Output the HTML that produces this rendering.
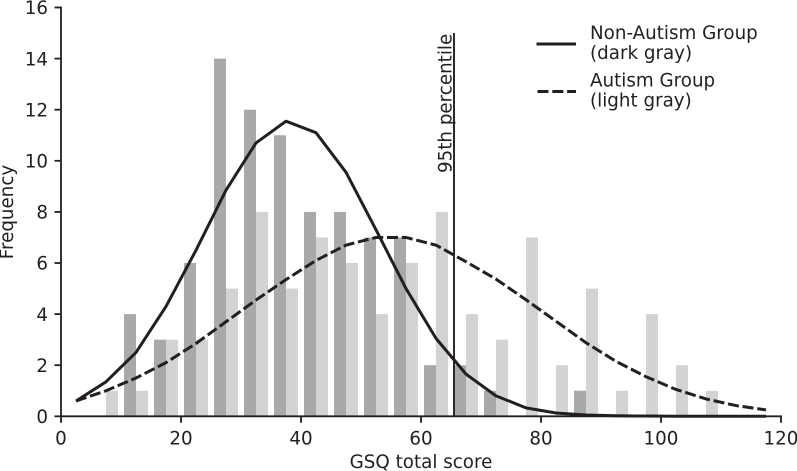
<!DOCTYPE html>
<html>
<head>
<meta charset="utf-8">
<title>GSQ total score histogram</title>
<style>
html,body{margin:0;padding:0;background:#fff;width:797px;height:471px;overflow:hidden}
svg{display:block}
text{font-family:"DejaVu Sans","Liberation Sans",sans-serif;fill:#231f20;font-size:18.3px}
</style>
</head>
<body>
<svg id="chart" width="797" height="471" viewBox="0 0 797 471" xmlns="http://www.w3.org/2000/svg"></svg>
<script>
const darkBinStarts = [10.5,15.5,20.5,25.5,30.5,35.5,40.5,45.5,50.5,55.5,60.5,65.5,70.5,85.5];
const darkCounts = [4,3,6,14,12,11,8,8,7,7,2,2,1,1];
const lightBinStarts = [7.5,12.5,17.5,22.5,27.5,32.5,37.5,42.5,47.5,52.5,57.5,62.5,67.5,72.5,77.5,82.5,87.5,92.5,97.5,102.5,107.5];
const lightCounts = [1,1,3,3,5,8,5,7,6,4,6,8,4,3,7,2,5,1,4,2,1];
const curveX = [2.5,7.5,12.5,17.5,22.5,27.5,32.5,37.5,42.5,47.5,52.5,57.5,62.5,67.5,72.5,77.5,82.5,87.5,92.5,97.5,102.5,107.5,112.5,117.5];
const nonAutismCurve = [0.6,1.35,2.5,4.3,6.5,8.85,10.7,11.55,11.1,9.55,7.3,5.0,3.05,1.65,0.8,0.33,0.13,0.05,0.02,0.01,0,0,0,0];
const autismCurve = [0.6,1.0,1.5,2.1,2.85,3.7,4.55,5.35,6.1,6.7,7.0,7.0,6.7,6.05,5.37,4.56,3.72,2.88,2.15,1.55,1.05,0.68,0.42,0.25];
const xTicks = [0,20,40,60,80,100,120];
const yTicks = [0,2,4,6,8,10,12,14,16];
const percentile95 = 65.5;
const barWidthUnits = 2;

const svg = document.getElementById('chart');
const NS = 'http://www.w3.org/2000/svg';
const xScale = v => 61 + v * 6;
const yScale = v => 416.3 - v * 25.55;
const INK = '#231f20';

function make(tag, attrs, text) {
  const el = document.createElementNS(NS, tag);
  for (const k in attrs) el.setAttribute(k, attrs[k]);
  if (text !== undefined) el.textContent = text;
  svg.appendChild(el);
  return el;
}

darkBinStarts.forEach((s, i) => {
  const el = make('rect', {x: xScale(s), y: yScale(darkCounts[i]), width: xScale(s + barWidthUnits) - xScale(s), height: yScale(0) - yScale(darkCounts[i]), fill: '#a8a9ab'});
  
  
});
lightBinStarts.forEach((s, i) => {
  const el = make('rect', {x: xScale(s), y: yScale(lightCounts[i]), width: xScale(s + barWidthUnits) - xScale(s), height: yScale(0) - yScale(lightCounts[i]), fill: '#d2d3d4'});
  
  
});

function pathOf(ys) {
  return curveX.map((x, i) => (i ? 'L' : 'M') + xScale(x).toFixed(2) + ' ' + yScale(ys[i]).toFixed(2)).join(' ');
}
const autismLine = make('path', {d: pathOf(autismCurve), fill: 'none', stroke: INK, 'stroke-width': 3, 'stroke-dasharray': '11 3.8'});


const nonAutismLine = make('path', {d: pathOf(nonAutismCurve), fill: 'none', stroke: INK, 'stroke-width': 3, 'stroke-linejoin': 'round'});



const pctLine = make('line', {x1: xScale(percentile95), x2: xScale(percentile95), y1: 33, y2: yScale(0), stroke: INK, 'stroke-width': 1.9});



const xAxis = make('line', {x1: xScale(0), x2: xScale(120) + 0.9, y1: yScale(0), y2: yScale(0), stroke: INK, 'stroke-width': 1.8});


const yAxis = make('line', {x1: xScale(0), x2: xScale(0), y1: yScale(16) - 0.9, y2: yScale(0) + 0.9, stroke: INK, 'stroke-width': 1.8});



xTicks.forEach(t => {
  const tick = make('line', {x1: xScale(t), x2: xScale(t), y1: yScale(0), y2: yScale(0) + 6.5, stroke: INK, 'stroke-width': 1.8});
  
  
  const label = make('text', {x: xScale(t), y: 444.5, 'text-anchor': 'middle'}, String(t));
  
  
});
yTicks.forEach(t => {
  const tick = make('line', {x1: xScale(0) - 6.5, x2: xScale(0), y1: yScale(t), y2: yScale(t), stroke: INK, 'stroke-width': 1.8});
  
  
  const label = make('text', {x: 48, y: yScale(t) + 6.7, 'text-anchor': 'end'}, String(t));
  
  
});

const xTitle = make('text', {x: 421, y: 468, 'text-anchor': 'middle'}, 'GSQ total score');


const yTitle = make('text', {x: 0, y: 0, 'text-anchor': 'middle', transform: 'translate(13 212) rotate(-90)'}, 'Frequency');


const pctLabel = make('text', {x: 0, y: 0, 'text-anchor': 'start', transform: 'translate(451.5 173) rotate(-90)'}, '95th percentile');



const legendSolid = make('line', {x1: 536.5, x2: 576, y1: 44, y2: 44, stroke: INK, 'stroke-width': 3});


const legendDash = make('line', {x1: 537.5, x2: 576, y1: 91.5, y2: 91.5, stroke: INK, 'stroke-width': 3, 'stroke-dasharray': '11 3.8'});



const l1 = make('text', {x: 590, y: 39}, 'Non-Autism Group');


const l2 = make('text', {x: 590, y: 59}, '(dark gray)');


const l3 = make('text', {x: 590, y: 86.5}, 'Autism Group');


const l4 = make('text', {x: 590, y: 106.5}, '(light gray)');


</script>
</body>
</html>
